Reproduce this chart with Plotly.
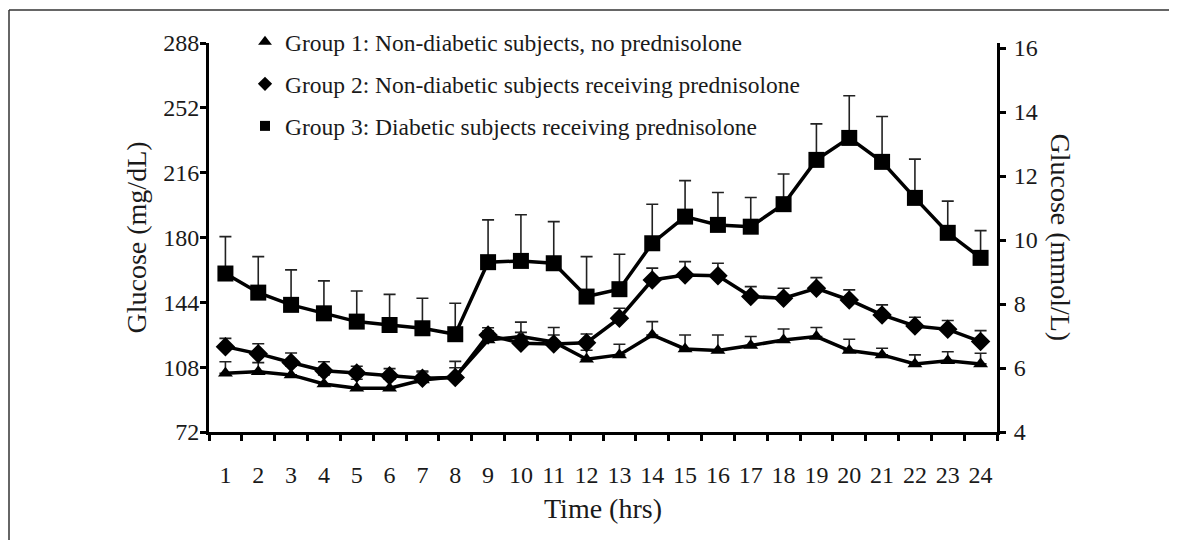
import plotly.graph_objects as go

hours = [str(h) for h in range(1, 25)]

g1_mean = [104.6, 105.5, 103.7, 98.7, 96.3, 96.3, 100.9, 102.7, 123.1, 125.0, 122.0, 112.4,
           114.8, 125.9, 118.1, 117.2, 120.0, 123.1, 125.0, 117.2, 114.8, 109.8, 111.6, 109.8]
g1_err = [6.4, 5.0, 5.0, 5.0, 5.0, 5.0, 5.0, 5.0, 5.0, 8.0, 8.0, 5.0,
          5.9, 7.4, 7.8, 8.7, 5.0, 6.1, 5.0, 6.3, 3.7, 5.0, 5.0, 5.9]

g2_mean = [119.4, 115.5, 110.6, 106.0, 104.7, 103.2, 101.8, 102.2, 125.9, 121.3, 120.9, 121.6,
           135.2, 156.4, 159.2, 158.7, 147.2, 146.3, 151.8, 145.3, 137.0, 130.9, 129.0, 122.2]
g2_err = [4.6, 5.5, 5.3, 5.0, 3.8, 4.0, 3.5, 9.0, 4.0, 6.0, 5.0, 4.8,
          5.5, 6.6, 7.4, 7.0, 5.5, 5.5, 5.9, 5.6, 5.6, 4.8, 4.9, 6.1]

g3_mean = [160.0, 149.4, 142.6, 137.9, 133.3, 131.4, 129.6, 126.3, 166.3, 167.0, 165.7, 147.2,
           151.3, 176.8, 191.6, 187.0, 186.0, 198.5, 223.1, 235.3, 222.0, 202.0, 182.6, 168.7]
g3_err = [20.5, 20.0, 19.4, 18.0, 17.0, 17.0, 16.7, 17.2, 23.5, 25.6, 23.1, 22.2,
          19.4, 21.7, 20.0, 18.0, 16.2, 16.8, 20.0, 23.4, 25.2, 21.5, 17.6, 15.1]

names = ["Group 1: Non-diabetic subjects, no prednisolone",
         "Group 2: Non-diabetic subjects receiving prednisolone",
         "Group 3: Diabetic subjects receiving prednisolone"]
symbols = ["triangle-up", "diamond", "square"]
sizes = [13, 15, 16]
legend_sizes = [12, 11, 10]

left_ticks = [72, 108, 144, 180, 216, 252, 288]
right_ticks = [4, 6, 8, 10, 12, 14, 16]

FONT = "Liberation Serif"
INK = "#1a1a1a"

# page body has an 8px default margin; lay out in screen pixels
OFF = 8
W, H = 1177 - OFF, 540 - OFF
PX_L, PX_R, PX_T, PX_B = 209, 997, 43, 432   # plot area in screen pixels
PW = PX_R - PX_L
PH = PX_B - PX_T
ML, MT = PX_L - OFF, PX_T - OFF
MR = W - ML - PW
MB = H - MT - PH

fig = go.Figure()
for mean, err, sym, sz in zip([g1_mean, g2_mean, g3_mean], [g1_err, g2_err, g3_err], symbols, sizes):
    fig.add_trace(go.Scatter(
        x=hours, y=mean, mode="lines+markers", showlegend=False,
        line=dict(color="black", width=3.5),
        marker=dict(symbol=sym, size=sz, color="black"),
        error_y=dict(type="data", array=err, symmetric=False, arrayminus=[0] * len(err),
                     color="#222222", thickness=1.6, width=6),
    ))

for i, (nm, sym, sz) in enumerate(zip(names, symbols, legend_sizes)):
    fig.add_trace(go.Scatter(
        x=[hours[0]], y=[None], mode="markers", name=nm, yaxis="y2",
        legendgroup=f"g{i}",
        marker=dict(symbol=sym, size=sz, color="black"),
    ))

def px_x(p):
    return (p - PX_L) / PW

def px_y(p):
    return (PX_B - p) / PH

fig.update_layout(
    width=W, height=H,
    margin=dict(l=ML, r=MR, t=MT, b=MB, autoexpand=False),
    paper_bgcolor="white", plot_bgcolor="white",
    font=dict(family=FONT, color=INK, size=24),
    showlegend=True,
    legend=dict(x=px_x(245), y=px_y(20), xanchor="left", yanchor="top",
                bgcolor="rgba(0,0,0,0)", font=dict(size=23.5, family=FONT, color=INK),
                tracegroupgap=8.5, itemsizing="trace"),
    xaxis=dict(type="category", categoryorder="array", categoryarray=hours,
               range=[-0.5, len(hours) - 0.5], tickson="boundaries", ticks="outside",
               ticklen=6, tickwidth=3, tickcolor="black", showline=True, linecolor="black",
               linewidth=3, showgrid=False, zeroline=False, tickangle=0,
               tickfont=dict(size=24, family=FONT, color=INK), ticklabelstandoff=19),
    yaxis=dict(range=[72, 288], tickvals=left_ticks, ticks="outside", ticklen=6, tickwidth=3,
               tickcolor="black", showline=True, linecolor="black", linewidth=3,
               showgrid=False, zeroline=False, tickfont=dict(size=24, family=FONT, color=INK),
               ticklabelstandoff=-4),
    yaxis2=dict(range=[4, 4 + PH / 32.0], tickvals=right_ticks, overlaying="y", side="right",
                ticks="outside", ticklen=6, tickwidth=3, tickcolor="black", showline=True,
                linecolor="black", linewidth=3, showgrid=False, zeroline=False,
                tickfont=dict(size=24, family=FONT, color=INK), ticklabelstandoff=3),
)

fig.add_annotation(text="Glucose (mg/dL)", xref="paper", yref="paper", x=px_x(136), y=0.5,
                   textangle=-90, showarrow=False, xanchor="center", yanchor="middle",
                   font=dict(size=28, family=FONT, color=INK))
fig.add_annotation(text="Glucose (mmol/L)", xref="paper", yref="paper", x=px_x(1060), y=0.5,
                   textangle=90, showarrow=False, xanchor="center", yanchor="middle",
                   font=dict(size=28, family=FONT, color=INK))
fig.add_annotation(text="Time (hrs)", xref="paper", yref="paper", x=0.5, y=px_y(508),
                   showarrow=False, xanchor="center", yanchor="middle",
                   font=dict(size=28, family=FONT, color=INK))

# figure frame (top and left edges)
fig.add_shape(type="line", xref="paper", yref="paper", x0=px_x(9), x1=px_x(1185),
              y0=px_y(10), y1=px_y(10), line=dict(color="#333333", width=1.5))
fig.add_shape(type="line", xref="paper", yref="paper", x0=px_x(9), x1=px_x(9),
              y0=px_y(10), y1=px_y(545), line=dict(color="#333333", width=1.5))

fig.write_html("out.html")
